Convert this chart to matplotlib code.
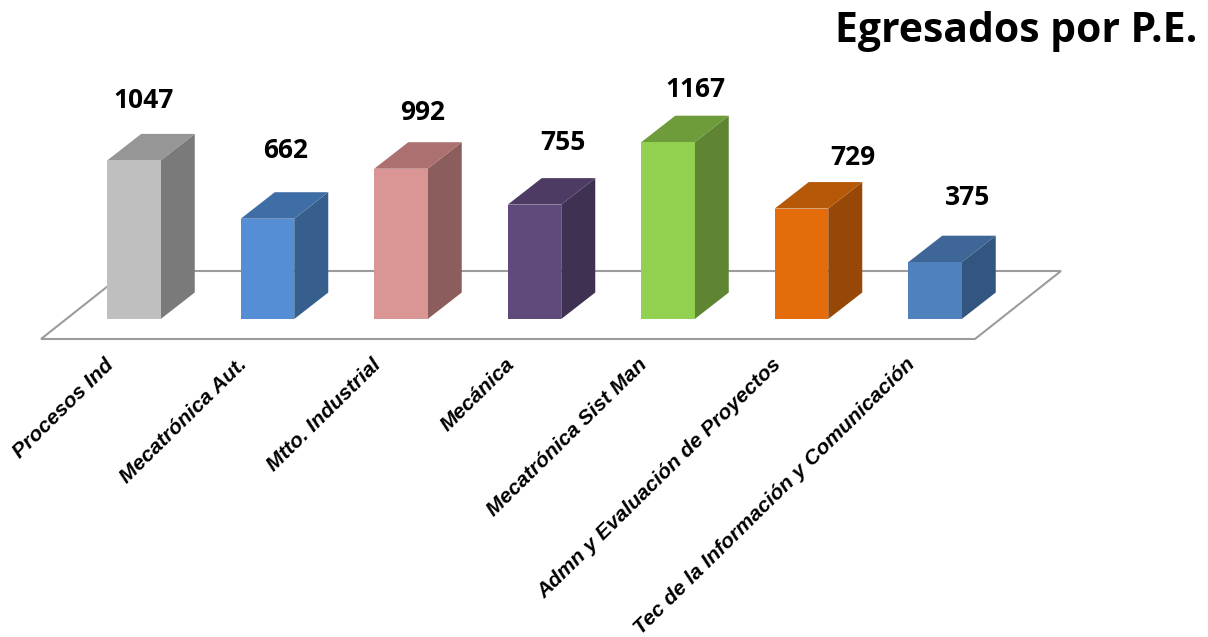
import matplotlib
matplotlib.use("Agg")
import matplotlib.pyplot as plt
from matplotlib.patches import Polygon

categories = ["Procesos Ind", "Mecatrónica Aut.", "Mtto. Industrial", "Mecánica",
              "Mecatrónica Sist Man", "Admn y Evaluación de Proyectos",
              "Tec de la Información y Comunicación"]
values = [1047, 662, 992, 755, 1167, 729, 375]
front_colors = ["#BFBFBF", "#558ED5", "#D99694", "#604A7B", "#92D050", "#E46C0A", "#4F81BD"]
side_colors = ["#7A7A7A", "#375F8D", "#8B5E5D", "#3F3151", "#5F8532", "#974806", "#335680"]
top_colors = ["#969696", "#3F6DA6", "#AC7070", "#4D3B63", "#6F9C3A", "#B55808", "#3E6696"]
label_shift_x = [-7, 1, 5, 11, 10, 34, 16]
label_shift_y = [20, 28, 16, 22, 13, 11, 25]

W, H = 1208, 637
PX_X = 133.5          # pixels per category
PX_Y = 0.1515         # pixels per value unit
X0, Y0 = 134.0, 319.0  # pixel position of first category / zero line
bar_w = 53.5 / PX_X
dx = 34 / PX_X
dy = 26.5 / PX_Y

fig = plt.figure(figsize=(W / 100, H / 100), dpi=100, facecolor="white")
ax = fig.add_axes([0, 0, 1, 1])
ax.set_xlim(-X0 / PX_X, (W - X0) / PX_X)
ax.set_ylim(-(H - Y0) / PX_Y, Y0 / PX_Y)
ax.axis("off")

# floor
fx = lambda p: (p - X0) / PX_X
fy = lambda p: (Y0 - p) / PX_Y
floor = [(fx(41), fy(339)), (fx(975), fy(339)), (fx(1061), fy(271)), (fx(127), fy(271))]
ax.add_patch(Polygon(floor, closed=True, facecolor="white", edgecolor="#9C9C9C",
                     linewidth=1.5, zorder=1))

xs = list(range(len(values)))
ax.bar(xs, values, width=bar_w, color=front_colors, linewidth=0, zorder=3)
for x, v, sc, tc, sx, sy in zip(xs, values, side_colors, top_colors, label_shift_x, label_shift_y):
    r = x + bar_w / 2
    l = x - bar_w / 2
    ax.add_patch(Polygon([(r, 0), (r + dx, dy), (r + dx, v + dy), (r, v)],
                         closed=True, facecolor=sc, edgecolor="none", zorder=2))
    ax.add_patch(Polygon([(l, v), (r, v), (r + dx, v + dy), (l + dx, v + dy)],
                         closed=True, facecolor=tc, edgecolor="none", zorder=2))
    ax.annotate(str(v), (x + dx / 2, v + dy), xytext=(sx, sy), textcoords="offset pixels",
                ha="center", va="bottom", fontsize=19, fontweight="bold",
                family="Open Sans", color="black", zorder=5)

for x, c in zip(xs, categories):
    ax.annotate(c, (x, 0), xytext=(-30, -36), textcoords="offset pixels",
                rotation=44.5, rotation_mode="anchor", ha="right", va="top",
                fontsize=15.2, fontweight="bold", fontstyle="italic",
                family="Liberation Sans", color="black", zorder=5)

fig.text(1197 / W, 1 - 31 / H, "Egresados por P.E.", ha="right", va="center",
         fontsize=29.4, fontweight="bold", family="Open Sans", color="black")

fig.savefig("out.png", dpi=100)
